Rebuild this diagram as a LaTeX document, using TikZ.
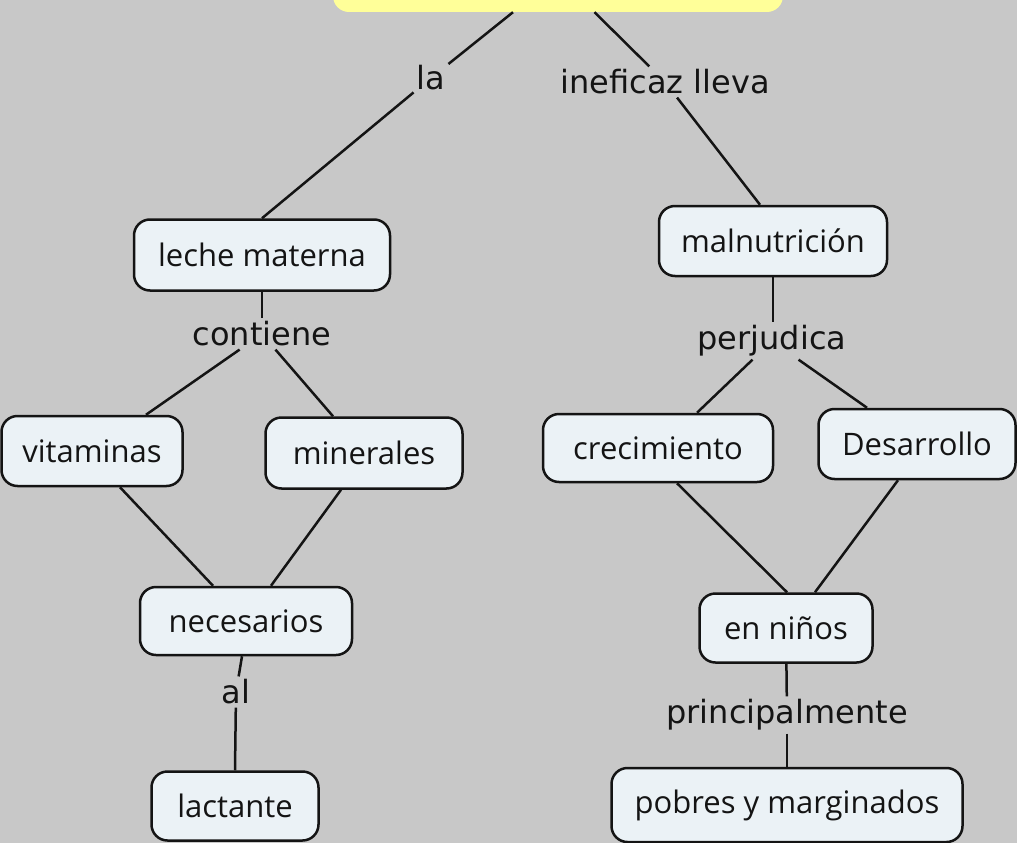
\documentclass[tikz,border=0pt]{standalone}
\usepackage{fontspec}
\newfontfamily\conceptfont{Open Sans}
\newfontfamily\linkfont{DejaVu Sans}
\definecolor{bgcol}{RGB}{200,200,200}
\definecolor{nodefill}{RGB}{235,242,246}
\definecolor{topyellow}{RGB}{255,255,153}
\definecolor{inkcol}{RGB}{20,20,20}
\begin{document}
\begin{tikzpicture}[x=1pt,y=-1pt,
  concept/.style={draw=inkcol, line width=2.5pt, fill=nodefill, rounded corners=16pt,
    font=\conceptfont\fontsize{31}{35}\selectfont, inner sep=0pt, text=inkcol},
  link/.style={font=\linkfont\fontsize{32}{36}\selectfont, inner sep=3pt, text=inkcol},
  conn/.style={line width=2.5pt, draw=inkcol}]
\fill[bgcol] (0,0) rectangle (1017,843);
\useasboundingbox (0,0) rectangle (1017,843);

\node[fill=topyellow, rounded corners=16pt, minimum width=450, minimum height=72, inner sep=0pt] (top) at (558,-24) {};

\node[concept, minimum width=256, minimum height=71] (leche) at (262,255) {leche materna};
\node[concept, minimum width=228, minimum height=70] (mal) at (773,241) {malnutrición};
\node[concept, minimum width=181, minimum height=70] (vit) at (92,451) {vitaminas};
\node[concept, minimum width=197, minimum height=71] (min) at (364,453) {minerales};
\node[concept, minimum width=230, minimum height=68] (crec) at (658,448) {crecimiento};
\node[concept, minimum width=197, minimum height=70] (des) at (917,444) {Desarrollo};
\node[concept, minimum width=212, minimum height=68] (nec) at (246,621) {necesarios};
\node[concept, minimum width=167, minimum height=69] (lact) at (235,806) {lactante};
\node[concept, minimum width=173, minimum height=69] (nino) at (786,628) {en niños};
\node[concept, minimum width=351, minimum height=74] (pob) at (787,805) {pobres y marginados};

\node[link] (la) at (431,78) {la};
\node[link] (inef) at (665,82) {ineficaz lleva};
\node[link] (cont) at (262,334) {contiene};
\node[link] (perj) at (772,341) {perjudica};
\node[link] (al) at (236,692) {al};
\node[link] (princ) at (787,715) {principalmente};

\draw[conn] (top) -- (la);
\draw[conn] (la) -- (leche.north);
\draw[conn] (top) -- (inef);
\draw[conn] (inef) -- ([xshift=-13pt]mal.north);
\draw[conn] (leche) -- (cont);
\draw[conn] (cont) -- ([xshift=54pt]vit.north);
\draw[conn] (cont) -- ([xshift=-31pt]min.north);
\draw[conn] (mal) -- (mal |- perj.north);
\draw[conn] (perj) -- ([xshift=39pt]crec.north);
\draw[conn] (perj) -- ([xshift=-50pt]des.north);
\draw[conn] ([xshift=28pt]vit.south) -- ([xshift=-33pt]nec.north);
\draw[conn] ([xshift=-23pt]min.south) -- ([xshift=25pt]nec.north);
\draw[conn] ([xshift=19pt]crec.south) -- ([xshift=1pt]nino.north);
\draw[conn] ([xshift=-19pt]des.south) -- ([xshift=29pt]nino.north);
\draw[conn] ([xshift=-4pt]nec.south) -- (al);
\draw[conn] (al) -- (lact.north);
\draw[conn] (nino) -- (princ);
\draw[conn] (princ) -- (pob);
\end{tikzpicture}
\end{document}
